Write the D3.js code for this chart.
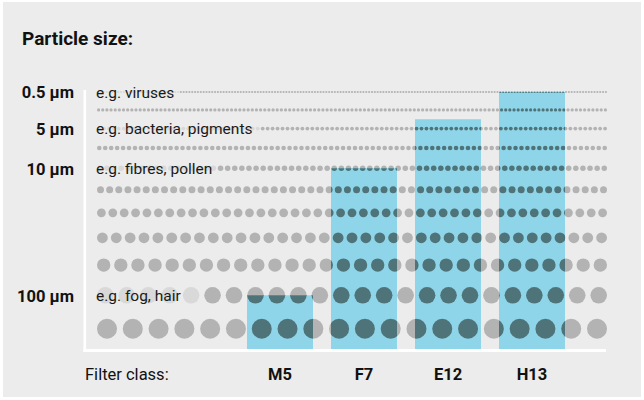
<!DOCTYPE html>
<html>
<head>
<meta charset="utf-8">
<script src="https://cdn.jsdelivr.net/npm/d3@7"></script>
<style>
  body { margin: 0; background: #fff; }
  svg { display: block; font-family: Roboto, "Liberation Sans", sans-serif; }
</style>
</head>
<body>
<div id="chart"></div>
<script>
// relative particle size for each dot row, smallest on top
const rowSizes = [1.1, 1.6, 1.9, 2.3, 2.75, 3.5, 4.4, 5.4, 6.7, 8.3, 10];

// labelled rows
const labelRows = [0, 2, 4, 9];
const sizeLabels = ["0.5 µm", "5 µm", "10 µm", "100 µm"];
const exampleLabels = ["e.g. viruses", "e.g. bacteria, pigments", "e.g. fibres, pollen", "e.g. fog, hair"];

// filter classes and the row (particle size) each one holds back
const filterClasses = ["M5", "F7", "E12", "H13"];
const filterReach = [9, 4, 1.5, 0];

const W = 644, H = 400;
const bg = "#ebeceb", dotGrey = "#b3b3b3", dotDark = "#4e7479", barBlue = "#8fd5e9";
const dotsLeft = 97, dotsRight = 607, baseY = 349, rowGap = 15.2;

const svg = d3.select("#chart").append("svg")
  .attr("width", W)
  .attr("height", H);

svg.append("rect")
  .attr("x", 3).attr("y", 2)
  .attr("width", W - 6).attr("height", H - 5)
  .attr("fill", bg);

svg.append("text")
  .attr("x", 22).attr("y", 45)
  .attr("font-size", 19).attr("font-weight", 700)
  .attr("fill", "#111")
  .text("Particle size:");

// radius scale and row positions
var r = d3.scaleLinear().domain([0, 10]).range([0, 10]);
var rowY = [];
var yy = 92;
rowSizes.forEach((s, i) => {
  if (i > 0) yy += r(rowSizes[i - 1]) + r(s) + rowGap;
  rowY.push(yy);
});
var y = d3.scaleLinear().domain(d3.range(rowSizes.length)).range(rowY);

var x = d3.scaleBand()
  .domain(filterClasses)
  .range([247, 565])
  .paddingInner(18 / 84)
  .paddingOuter(0);

// every dot of every row
var dots = [];
rowSizes.forEach((s, i) => {
  var rr = r(s);
  var span = dotsRight - dotsLeft - 2 * rr;
  var n = Math.round(span / (2.6 * rr)) + 1;
  var step = span / (n - 1);
  for (var j = 0; j < n; j++) {
    dots.push({ row: i, r: rr, cx: dotsLeft + rr + j * step, cy: y(i) });
  }
});

// white axis
svg.append("rect")
  .attr("x", 83.5).attr("y", 90)
  .attr("width", 2.6).attr("height", baseY + 3 - 90)
  .attr("fill", "#fff");
svg.append("rect")
  .attr("x", 83.5).attr("y", baseY)
  .attr("width", 606 - 83.5).attr("height", 3)
  .attr("fill", "#fff");

var greyDots = svg.append("g").attr("class", "dots")
  .selectAll("circle")
  .data(dots)
  .enter().append("circle")
  .attr("cx", d => d.cx)
  .attr("cy", d => d.cy)
  .attr("r", d => d.r)
  .attr("fill", dotGrey);

// bars
svg.append("g")
  .selectAll("rect")
  .data(filterClasses)
  .enter().append("rect")
  .attr("x", d => x(d))
  .attr("y", (d, i) => y(filterReach[i]))
  .attr("width", x.bandwidth())
  .attr("height", (d, i) => baseY - y(filterReach[i]))
  .attr("fill", barBlue);

// dark dots only inside the bars
var clip = svg.append("clipPath").attr("id", "barClip");
clip.selectAll("rect")
  .data(filterClasses)
  .enter().append("rect")
  .attr("x", d => x(d))
  .attr("y", (d, i) => y(filterReach[i]))
  .attr("width", x.bandwidth())
  .attr("height", (d, i) => baseY - y(filterReach[i]));

svg.append("g")
  .attr("clip-path", "url(#barClip)")
  .selectAll("circle")
  .data(dots)
  .enter().append("circle")
  .attr("cx", d => d.cx)
  .attr("cy", d => d.cy)
  .attr("r", d => d.r)
  .attr("fill", dotDark);

// row labels
svg.append("g")
  .selectAll("text")
  .data(labelRows)
  .enter().append("text")
  .attr("x", 74)
  .attr("y", d => y(d))
  .attr("dy", "0.38em")
  .attr("text-anchor", "end")
  .attr("font-size", 16.5).attr("font-weight", 700)
  .attr("fill", "#111")
  .text((d, i) => sizeLabels[i]);

var examples = svg.append("g")
  .selectAll("text")
  .data(labelRows)
  .enter().append("text")
  .attr("x", 96)
  .attr("y", d => y(d))
  .attr("dy", "0.38em")
  .attr("font-size", 15.5)
  .attr("fill", "#1a1a1a")
  .text((d, i) => exampleLabels[i]);

// fade the dots that sit under the example texts
var textEnd = {};
examples.each(function (d) { textEnd[d] = 96 + this.getComputedTextLength(); });
greyDots.filter(d => textEnd[d.row] !== undefined && d.cx - d.r < textEnd[d.row] + 4)
  .attr("fill-opacity", 0.33);

// bottom axis labels
svg.append("text")
  .attr("x", 85).attr("y", 380)
  .attr("font-size", 16.5)
  .attr("fill", "#111")
  .text("Filter class:");

svg.append("g")
  .selectAll("text")
  .data(filterClasses)
  .enter().append("text")
  .attr("x", d => x(d) + x.bandwidth() / 2)
  .attr("y", 380)
  .attr("text-anchor", "middle")
  .attr("font-size", 16.5).attr("font-weight", 700)
  .attr("fill", "#111")
  .text(d => d);
</script>
</body>
</html>
